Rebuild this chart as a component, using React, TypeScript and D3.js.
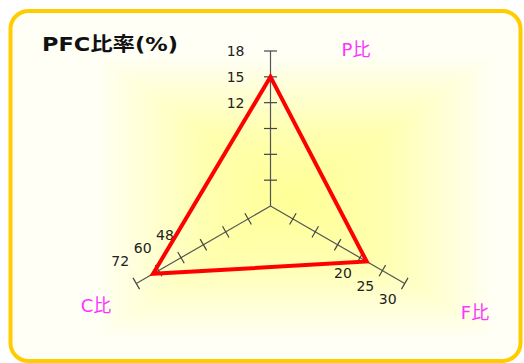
import { useEffect, useRef } from "react";
import * as d3 from "d3";

// PFC balance (%)
const axes = ["P比", "F比", "C比"];
const values = [15, 21.5, 63];
const maxes = [18, 30, 72];
const tickLabels = [
  ["12", "15", "18"],
  ["20", "25", "30"],
  ["48", "60", "72"],
];

const W = 524;
const H = 363;

export default function App() {
  const ref = useRef<SVGSVGElement | null>(null);

  useEffect(() => {
    const svg = d3.select(ref.current);
    svg.selectAll("*").remove();

    const cx = 270.5;
    const cy = 206;
    const R = 155;
    const nTicks = 6;

    // frame
    svg
      .append("rect")
      .attr("x", 10.5)
      .attr("y", 11)
      .attr("width", 510)
      .attr("height", 350)
      .attr("rx", 18)
      .attr("fill", "#fffff6")
      .attr("stroke", "#ffcc00")
      .attr("stroke-width", 4);

    // rectangular "from center" gradient, like the spreadsheet fill
    const bx0 = 95, bx1 = 495, by0 = 55, by1 = 340;
    const gx = (bx0 + bx1) / 2;
    const gy = (by0 + by1) / 2;
    const defs = svg.append("defs");
    const sides = [
      { id: "gl", x2: bx0, y2: gy, pts: [[gx, gy], [bx0, by0], [bx0, by1]] },
      { id: "gr", x2: bx1, y2: gy, pts: [[gx, gy], [bx1, by0], [bx1, by1]] },
      { id: "gt", x2: gx, y2: by0, pts: [[gx, gy], [bx0, by0], [bx1, by0]] },
      { id: "gb", x2: gx, y2: by1, pts: [[gx, gy], [bx0, by1], [bx1, by1]] },
    ];
    sides.forEach((s) => {
      const lg = defs
        .append("linearGradient")
        .attr("id", s.id)
        .attr("gradientUnits", "userSpaceOnUse")
        .attr("x1", gx)
        .attr("y1", gy)
        .attr("x2", s.x2)
        .attr("y2", s.y2);
      lg.append("stop").attr("offset", 0).attr("stop-color", "#ffff96");
      lg.append("stop").attr("offset", 0.45).attr("stop-color", "#ffffb0");
      lg.append("stop").attr("offset", 0.8).attr("stop-color", "#ffffdc");
      lg.append("stop").attr("offset", 1).attr("stop-color", "#fffff6");
      svg
        .append("polygon")
        .attr("points", s.pts.map((p) => p.join(",")).join(" "))
        .attr("fill", `url(#${s.id})`)
        .attr("stroke", `url(#${s.id})`)
        .attr("stroke-width", 0.6);
    });

    svg
      .append("text")
      .attr("x", 42)
      .attr("y", 51)
      .attr("font-family", "'DejaVu Sans', 'Noto Sans CJK JP', sans-serif")
      .attr("font-size", 19)
      .attr("font-weight", "bold")
      .attr("fill", "#111")
      .attr("textLength", 136)
      .attr("lengthAdjust", "spacingAndGlyphs")
      .text("PFC比率(%)");

    // axis directions: P up, F lower right, C lower left
    const angles = [-90, 30, 150].map((a) => (a * Math.PI) / 180);
    const scales = maxes.map((m) => d3.scaleLinear().domain([0, m]).range([0, R]));

    const pt = (i: number, v: number): [number, number] => {
      const r = scales[i](v);
      return [cx + r * Math.cos(angles[i]), cy + r * Math.sin(angles[i])];
    };

    const g = svg.append("g");

    axes.forEach((name, i) => {
      const [ex, ey] = pt(i, maxes[i]);
      g.append("line")
        .attr("x1", cx)
        .attr("y1", cy)
        .attr("x2", ex)
        .attr("y2", ey)
        .attr("stroke", "#555")
        .attr("stroke-width", 1.2);

      const ticks = d3.range(1, nTicks + 1).map((k) => (maxes[i] / nTicks) * k);
      const px = -Math.sin(angles[i]);
      const py = Math.cos(angles[i]);
      const half = 6.5;
      g.selectAll(null)
        .data(ticks)
        .enter()
        .append("line")
        .attr("x1", (d) => pt(i, d)[0] - px * half)
        .attr("y1", (d) => pt(i, d)[1] - py * half)
        .attr("x2", (d) => pt(i, d)[0] + px * half)
        .attr("y2", (d) => pt(i, d)[1] + py * half)
        .attr("stroke", "#444")
        .attr("stroke-width", 1.2);

      // labels for the outer three ticks
      const offs = [
        { dx: -26, dy: 1, anchor: "end" },
        { dx: -17, dy: 16, anchor: "middle" },
        { dx: -16, dy: -22, anchor: "middle" },
      ][i];
      g.selectAll(null)
        .data(tickLabels[i])
        .enter()
        .append("text")
        .attr("x", (d) => pt(i, +d)[0] + offs.dx)
        .attr("y", (d) => pt(i, +d)[1] + offs.dy)
        .attr("text-anchor", offs.anchor)
        .attr("dominant-baseline", "middle")
        .attr("font-family", "'DejaVu Sans', sans-serif")
        .attr("font-size", 14)
        .attr("fill", "#222")
        .text((d) => d);
    });

    // axis names
    const namePos: [number, number][] = [
      [356, 51],
      [475, 314],
      [96, 307],
    ];
    axes.forEach((name, i) => {
      svg
        .append("text")
        .attr("x", namePos[i][0])
        .attr("y", namePos[i][1])
        .attr("text-anchor", "middle")
        .attr("dominant-baseline", "middle")
        .attr("font-family", "'DejaVu Sans', 'Noto Sans CJK JP', sans-serif")
        .attr("font-size", 18)
        .attr("fill", "#ff33ff")
        .text(name);
    });

    // data polygon
    const poly = values.map((v, i) => pt(i, v));
    svg
      .append("path")
      .attr("d", d3.line()(poly) + "Z")
      .attr("fill", "none")
      .attr("stroke", "#ff0000")
      .attr("stroke-width", 4)
      .attr("stroke-linejoin", "miter");
  }, []);

  return (
    <svg
      ref={ref}
      width={W}
      height={H}
      style={{ position: "absolute", left: 0, top: 0, background: "#fff" }}
    />
  );
}
